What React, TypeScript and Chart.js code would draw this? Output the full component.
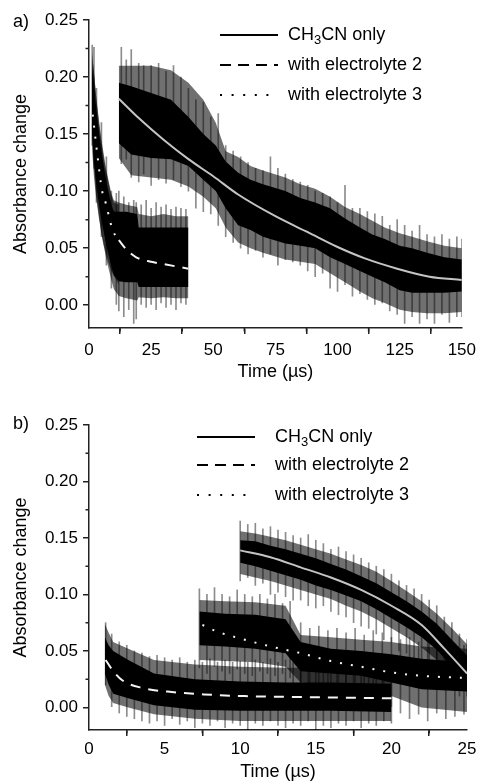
import React, { useEffect, useRef } from 'react';
import { Chart, registerables } from 'chart.js';
Chart.register(...registerables);

const FONT = '"Liberation Sans", Arial, Helvetica, sans-serif';

// ---------- shared axis values ----------
const yTicks = [0, 0.05, 0.1, 0.15, 0.2, 0.25];
const yMinor = [0.025, 0.075, 0.125, 0.175, 0.225];
const aXTicks = [0, 25, 50, 75, 100, 125, 150];
const aXMinor = [12.5, 37.5, 62.5, 87.5, 112.5, 137.5];
const bXTicks = [0, 5, 10, 15, 20, 25];
const bXMinor = [2.5, 7.5, 12.5, 17.5, 22.5];

const legendLabels: [string, boolean][][] = [
  [['CH', false], ['3', true], ['CN only', false]],
  [['with electrolyte 2', false]],
  [['with electrolyte 3', false]],
];

// ---------- panel a: CH3CN only ----------
const aMeT = [12, 17, 25, 33, 40, 46, 51, 55, 60, 65, 70, 79, 85, 91, 97, 103, 109, 114, 119, 125, 130, 136, 143, 150];
const aMeOuterHi = [0.21, 0.21, 0.21, 0.206, 0.195, 0.18, 0.16, 0.135, 0.13, 0.122, 0.118, 0.112, 0.106, 0.102, 0.095, 0.086, 0.08, 0.074, 0.068, 0.063, 0.06, 0.056, 0.052, 0.05];
const aMeCoreHi = [0.195, 0.192, 0.186, 0.18, 0.165, 0.15, 0.14, 0.126, 0.116, 0.11, 0.106, 0.1, 0.094, 0.09, 0.085, 0.076, 0.068, 0.062, 0.058, 0.052, 0.05, 0.046, 0.042, 0.04];
const aMeCoreLo = [0.142, 0.132, 0.129, 0.128, 0.122, 0.11, 0.1, 0.085, 0.07, 0.066, 0.06, 0.054, 0.052, 0.05, 0.042, 0.036, 0.03, 0.025, 0.02, 0.013, 0.011, 0.011, 0.011, 0.012];
const aMeOuterLo = [0.129, 0.114, 0.112, 0.11, 0.104, 0.095, 0.085, 0.068, 0.055, 0.05, 0.046, 0.04, 0.038, 0.036, 0.028, 0.02, 0.012, 0.006, 0.002, -0.004, -0.006, -0.007, -0.007, -0.006];
const aMeSpikeT = [13, 15, 17, 20, 22, 25, 28, 31, 34, 37, 40, 43, 46, 49, 52, 55, 58, 61, 64, 67, 70, 73, 76, 79, 82, 85, 88, 91, 94, 97, 100, 103, 106, 109, 112, 115, 118, 121, 124, 127, 130, 133, 136, 139, 142, 145, 148, 150];
const aMeSpikeLo = [0.124, 0.128, 0.112, 0.108, 0.115, 0.105, 0.11, 0.107, 0.11, 0.104, 0.1, 0.085, 0.082, 0.08, 0.07, 0.06, 0.055, 0.05, 0.045, 0.048, 0.042, 0.045, 0.035, 0.04, 0.038, 0.035, 0.03, 0.025, 0.028, 0.015, 0.012, 0.018, 0.008, 0.01, 0.005, 0.0, 0.002, -0.005, -0.008, -0.016, -0.01, -0.016, -0.012, -0.016, -0.008, -0.015, -0.01, -0.01];
const aMeSpikeHi = [0.226, 0.215, 0.224, 0.212, 0.21, 0.21, 0.212, 0.205, 0.21, 0.2, 0.19, 0.18, 0.178, 0.165, 0.168, 0.14, 0.135, 0.13, 0.125, 0.12, 0.118, 0.13, 0.12, 0.115, 0.11, 0.108, 0.105, 0.1, 0.098, 0.095, 0.09, 0.105, 0.085, 0.085, 0.082, 0.08, 0.078, 0.07, 0.075, 0.07, 0.065, 0.07, 0.062, 0.06, 0.062, 0.058, 0.06, 0.058];
const aMeFitT = [12, 20, 30, 40, 50, 60, 75, 88, 100, 111, 124, 137, 150];
const aMeFitY = [0.181, 0.164, 0.145, 0.128, 0.113, 0.097, 0.078, 0.064, 0.051, 0.041, 0.032, 0.025, 0.022];

// ---------- panel a: with electrolyte 2 ----------
const aE2T = [1.5, 3, 5, 7, 9, 10, 12, 15, 19.4, 20, 25, 30, 35, 40];
const aE2OuterHi = [0.215, 0.18, 0.145, 0.118, 0.098, 0.092, 0.09, 0.088, 0.086, 0.08, 0.078, 0.08, 0.078, 0.078];
const aE2CoreHi = [0.205, 0.17, 0.135, 0.108, 0.088, 0.082, 0.082, 0.082, 0.08, 0.068, 0.068, 0.068, 0.068, 0.068];
const aE2CoreLo = [0.15, 0.11, 0.078, 0.052, 0.034, 0.026, 0.021, 0.02, 0.02, 0.016, 0.016, 0.016, 0.016, 0.016];
const aE2OuterLo = [0.135, 0.095, 0.062, 0.04, 0.022, 0.014, 0.008, 0.006, 0.004, 0.007, 0.006, 0.007, 0.006, 0.006];
const aE2SpikeT = [1.3, 2, 3, 5, 7, 9, 11, 12, 14, 16, 18, 19, 21, 23, 25, 27, 29, 31, 33, 35, 37, 39];
const aE2SpikeLo = [0.14, 0.12, 0.09, 0.06, 0.035, 0.015, 0.0, -0.005, -0.01, -0.004, -0.016, -0.012, 0.0, -0.002, 0.0, -0.004, 0.002, -0.002, 0.0, -0.004, 0.002, 0.0];
const aE2SpikeHi = [0.228, 0.226, 0.19, 0.16, 0.13, 0.1, 0.098, 0.1, 0.095, 0.09, 0.092, 0.09, 0.088, 0.092, 0.085, 0.09, 0.086, 0.088, 0.084, 0.086, 0.085, 0.084];
const aE2FitT = [12, 15, 19, 25, 30, 35, 40];
const aE2FitY = [0.057, 0.049, 0.042, 0.038, 0.036, 0.034, 0.032];

// ---------- panel a: with electrolyte 3 ----------
const aE3T = [1.2, 2, 3, 4, 5, 6, 7, 8, 9, 10, 12];
const aE3OuterHi = [0.222, 0.205, 0.18, 0.16, 0.142, 0.128, 0.116, 0.106, 0.096, 0.09, 0.088];
const aE3CoreHi = [0.212, 0.19, 0.165, 0.145, 0.128, 0.115, 0.103, 0.094, 0.086, 0.082, 0.082];
const aE3CoreLo = [0.15, 0.125, 0.105, 0.088, 0.075, 0.064, 0.054, 0.046, 0.04, 0.035, 0.028];
const aE3OuterLo = [0.138, 0.112, 0.092, 0.076, 0.063, 0.052, 0.044, 0.036, 0.03, 0.026, 0.018];
const aE3FitT = [1.5, 3.3, 5.2, 6.8, 9.2, 11.5];
const aE3FitY = [0.167, 0.133, 0.101, 0.089, 0.068, 0.057];

// ---------- panel b: CH3CN only ----------
const bMeT = [10, 11, 12, 13, 14, 15, 16, 17, 18, 19, 20, 21, 22, 23, 24, 25];
const bMeOuterHi = [0.156, 0.154, 0.151, 0.148, 0.144, 0.14, 0.136, 0.131, 0.126, 0.12, 0.112, 0.103, 0.094, 0.083, 0.07, 0.056];
const bMeCoreHi = [0.148, 0.147, 0.143, 0.14, 0.136, 0.132, 0.127, 0.122, 0.116, 0.11, 0.102, 0.094, 0.085, 0.074, 0.06, 0.046];
const bMeCoreLo = [0.128, 0.125, 0.121, 0.117, 0.113, 0.108, 0.104, 0.099, 0.094, 0.087, 0.079, 0.071, 0.062, 0.051, 0.036, 0.024];
const bMeOuterLo = [0.118, 0.115, 0.112, 0.108, 0.104, 0.1, 0.096, 0.09, 0.085, 0.078, 0.07, 0.062, 0.053, 0.042, 0.03, 0.018];
const bMeSpikeT = [10, 10.5, 11, 11.5, 12, 12.5, 13, 13.5, 14, 14.5, 15, 15.5, 16, 16.5, 17, 17.5, 18, 18.5, 19, 19.5, 20, 20.5, 21, 21.5, 22, 22.5, 23, 23.5, 24, 24.5, 25];
const bMeSpikeLo = [0.112, 0.115, 0.108, 0.11, 0.1, 0.102, 0.098, 0.095, 0.095, 0.09, 0.088, 0.09, 0.085, 0.082, 0.08, 0.075, 0.072, 0.07, 0.065, 0.06, 0.058, 0.05, 0.048, 0.042, 0.04, 0.035, 0.025, 0.02, 0.015, 0.01, 0.01];
const bMeSpikeHi = [0.165, 0.162, 0.163, 0.158, 0.16, 0.157, 0.155, 0.152, 0.15, 0.153, 0.148, 0.145, 0.14, 0.142, 0.138, 0.135, 0.132, 0.128, 0.125, 0.122, 0.118, 0.112, 0.108, 0.105, 0.1, 0.095, 0.09, 0.08, 0.075, 0.065, 0.06];
const bMeFitT = [10, 12, 14, 16, 18, 20, 22, 23.5, 25];
const bMeFitY = [0.139, 0.133, 0.124, 0.115, 0.104, 0.09, 0.073, 0.052, 0.03];

// ---------- panel b: with electrolyte 3 ----------
const bE3T = [7.3, 9, 11, 13, 14, 16, 18, 20, 22, 25];
const bE3OuterHi = [0.095, 0.094, 0.093, 0.09, 0.064, 0.062, 0.06, 0.058, 0.054, 0.052];
const bE3CoreHi = [0.085, 0.083, 0.082, 0.078, 0.058, 0.052, 0.05, 0.047, 0.043, 0.04];
const bE3CoreLo = [0.055, 0.054, 0.052, 0.048, 0.032, 0.03, 0.028, 0.022, 0.016, 0.014];
const bE3OuterLo = [0.042, 0.041, 0.04, 0.036, 0.022, 0.02, 0.018, 0.01, 0.0, -0.004];
const bE3SpikeT = [7.3, 7.8, 8.3, 8.8, 9.3, 9.8, 10.3, 10.8, 11.3, 11.8, 12.3, 12.8, 13.3, 14, 14.6, 15.2, 15.8, 16.4, 17, 17.6, 18.2, 18.8, 19.4, 20, 20.6, 21.2, 21.8, 22.4, 23, 23.6, 24.2, 24.8];
const bE3SpikeLo = [0.035, 0.03, 0.036, 0.032, 0.03, 0.034, 0.03, 0.028, 0.032, 0.03, 0.028, 0.03, 0.026, 0.012, 0.01, 0.008, 0.012, 0.005, 0.01, 0.006, 0.004, 0.008, 0.002, 0.0, -0.005, -0.01, -0.006, -0.012, -0.005, -0.01, -0.008, -0.006];
const bE3SpikeHi = [0.105, 0.1, 0.106, 0.1, 0.098, 0.104, 0.1, 0.098, 0.1, 0.096, 0.1, 0.092, 0.094, 0.075, 0.07, 0.072, 0.068, 0.07, 0.066, 0.07, 0.064, 0.068, 0.066, 0.062, 0.06, 0.062, 0.058, 0.06, 0.056, 0.058, 0.056, 0.055];
const bE3FitT = [7.5, 8.5, 10, 12, 14, 16, 18, 20, 22, 25];
const bE3FitY = [0.073, 0.067, 0.061, 0.054, 0.048, 0.041, 0.036, 0.031, 0.028, 0.026];

// ---------- panel b: with electrolyte 2 ----------
const bE2T = [1.05, 1.3, 1.6, 2.6, 4.3, 7, 10, 13, 16, 20];
const bE2OuterHi = [0.074, 0.066, 0.058, 0.052, 0.042, 0.038, 0.036, 0.035, 0.035, 0.034];
const bE2CoreHi = [0.062, 0.055, 0.05, 0.042, 0.03, 0.025, 0.023, 0.022, 0.022, 0.021];
const bE2CoreLo = [0.03, 0.02, 0.012, 0.008, 0.002, -0.002, -0.003, -0.003, -0.003, -0.004];
const bE2OuterLo = [0.02, 0.01, 0.004, 0.0, -0.006, -0.01, -0.012, -0.012, -0.012, -0.012];
const bE2SpikeT = [1.1, 1.5, 2, 2.5, 3, 3.5, 4, 4.5, 5, 5.5, 6, 6.5, 7, 7.5, 8, 8.5, 9, 9.5, 10, 10.5, 11, 11.5, 12, 12.5, 13, 13.5, 14, 14.5, 15, 15.5, 16, 16.5, 17, 17.5, 18, 18.5, 19, 19.5, 20];
const bE2SpikeLo = [0.02, 0.0, -0.005, -0.008, -0.01, -0.012, -0.014, -0.012, -0.016, -0.01, -0.015, -0.012, -0.018, -0.014, -0.016, -0.012, -0.018, -0.014, -0.016, -0.02, -0.014, -0.016, -0.012, -0.016, -0.018, -0.014, -0.016, -0.012, -0.02, -0.016, -0.018, -0.014, -0.016, -0.012, -0.018, -0.014, -0.016, -0.012, -0.014];
const bE2SpikeHi = [0.075, 0.065, 0.058, 0.055, 0.05, 0.048, 0.045, 0.046, 0.044, 0.042, 0.044, 0.04, 0.042, 0.04, 0.043, 0.04, 0.042, 0.04, 0.041, 0.04, 0.042, 0.04, 0.043, 0.04, 0.042, 0.04, 0.041, 0.04, 0.042, 0.04, 0.041, 0.04, 0.042, 0.04, 0.041, 0.04, 0.042, 0.04, 0.04];
const bE2FitT = [1.1, 1.5, 2.2, 3.6, 5.2, 7.6, 10.3, 12.7, 15, 20];
const bE2FitY = [0.042, 0.034, 0.024, 0.017, 0.014, 0.0115, 0.01, 0.0094, 0.009, 0.008];

// ---------- styling ----------
const OUTER = 'rgba(0,0,0,0.56)';
const SPIKE = 'rgba(0,0,0,0.45)';
const CORE = '#000';
const FIT_SOLID = '#c4c4c4';
const FIT_WHITE = '#f4f4f4';
const DASH = [10, 8];
const DOT = [2, 9];

const pts = (xs: number[], ys: number[]) => xs.map((x, i) => ({ x, y: ys[i] }));

function bandPair(t: number[], hi: number[], lo: number[], color: string, order: number) {
  return [
    { type: 'line', data: pts(t, hi), borderWidth: 0, borderColor: 'rgba(0,0,0,0)', pointRadius: 0, fill: '+1', backgroundColor: color, order },
    { type: 'line', data: pts(t, lo), borderWidth: 0, borderColor: 'rgba(0,0,0,0)', pointRadius: 0, fill: false, order },
  ];
}
function spikes(t: number[], lo: number[], hi: number[]) {
  return {
    type: 'bar',
    data: t.map((x, i) => ({ x, y: [lo[i], hi[i]] })),
    backgroundColor: SPIKE,
    borderWidth: 0,
    barThickness: 1,
    grouped: false,
    order: 3,
  };
}
function fit(t: number[], y: number[], color: string, dash: number[]) {
  return {
    type: 'line', data: pts(t, y), borderColor: color, borderWidth: 2, borderDash: dash,
    pointRadius: 0, fill: false, cubicInterpolationMode: 'monotone', order: 0,
  };
}

const overlayPlugin = {
  id: 'overlay',
  afterDraw(chart: any, _args: any, opts: any) {
    const ctx = chart.ctx as CanvasRenderingContext2D;
    const { chartArea } = chart;
    const xs = chart.scales.x;
    const ys = chart.scales.y;
    ctx.save();
    // minor ticks
    ctx.strokeStyle = '#222';
    ctx.lineWidth = 1.5;
    ctx.beginPath();
    for (const v of opts.minorY) {
      const y = ys.getPixelForValue(v);
      ctx.moveTo(chartArea.left - 3.5, y);
      ctx.lineTo(chartArea.left, y);
    }
    for (const v of opts.minorX) {
      const x = xs.getPixelForValue(v);
      ctx.moveTo(x, chartArea.bottom);
      ctx.lineTo(x, chartArea.bottom + 3.5);
    }
    ctx.stroke();
    // panel label
    ctx.fillStyle = '#000';
    ctx.font = `18px ${FONT}`;
    ctx.textBaseline = 'middle';
    ctx.textAlign = 'left';
    ctx.fillText(opts.panelLabel, opts.labelX, opts.labelY);
    // legend
    const styles = [[], [11, 7], [2, 9.6]];
    legendLabels.forEach((parts, i) => {
      const y = opts.legendY[i];
      ctx.strokeStyle = '#000';
      ctx.lineWidth = 2;
      ctx.setLineDash(styles[i]);
      ctx.beginPath();
      ctx.moveTo(opts.legendX0, y);
      ctx.lineTo(opts.legendX1, y);
      ctx.stroke();
      ctx.setLineDash([]);
      let x = opts.legendTextX;
      for (const [s, sub] of parts) {
        ctx.font = sub ? `13px ${FONT}` : `18px ${FONT}`;
        ctx.fillText(s, x, sub ? y + 5 : y);
        x += ctx.measureText(s).width;
      }
    });
    ctx.restore();
  },
};

function makeConfig(p: any) {
  return {
    type: 'line',
    data: { datasets: p.datasets },
    plugins: [overlayPlugin],
    options: {
      animation: false,
      responsive: false,
      devicePixelRatio: 1,
      events: [],
      layout: { padding: { left: 0, right: 15, top: p.padTop, bottom: 0 } },
      plugins: {
        legend: { display: false },
        tooltip: { enabled: false },
        overlay: p.overlay,
      },
      scales: {
        x: {
          type: 'linear', min: 0, max: p.xMax, offset: false,
          afterBuildTicks: (s: any) => { s.ticks = p.xTicks.map((v: number) => ({ value: v })); },
          afterFit: (s: any) => { s.height = p.xHeight; },
          grid: { drawOnChartArea: false, drawTicks: true, tickLength: 6, color: '#222', lineWidth: 1.5 },
          border: { display: true, color: '#222', width: 1.5 },
          ticks: { font: { family: FONT, size: 17 }, color: '#000', padding: p.xTickPad, maxRotation: 0, autoSkip: false, callback: (v: any) => String(v) },
          title: { display: true, text: 'Time (µs)', font: { family: FONT, size: 18 }, color: '#000', padding: { top: 0, bottom: p.xTitlePad } },
        },
        y: {
          type: 'linear', min: -0.02, max: 0.25,
          afterBuildTicks: (s: any) => { s.ticks = yTicks.map((v) => ({ value: v })); },
          afterFit: (s: any) => { s.width = 89; },
          grid: { drawOnChartArea: false, drawTicks: true, tickLength: 6, color: '#222', lineWidth: 1.5 },
          border: { display: true, color: '#222', width: 1.5 },
          ticks: { font: { family: FONT, size: 17 }, color: '#000', padding: 5, callback: (v: any) => Number(v).toFixed(2) },
          title: { display: true, text: 'Absorbance change', font: { family: FONT, size: 18 }, color: '#000', padding: { top: 10, bottom: 0 } },
        },
      },
    },
  };
}

const panelA = {
  xMax: 150, xTicks: aXTicks, padTop: 20, xHeight: 64, xTickPad: 6, xTitlePad: 9,
  overlay: { minorX: aXMinor, minorY: yMinor, panelLabel: 'a)', labelX: 13, labelY: 22, legendX0: 220, legendX1: 278, legendTextX: 288, legendY: [35, 65, 95] },
  datasets: [
    fit(aMeFitT, aMeFitY, FIT_SOLID, []),
    fit(aE2FitT, aE2FitY, FIT_WHITE, DASH),
    fit(aE3FitT, aE3FitY, FIT_WHITE, DOT),
    ...bandPair(aMeT, aMeCoreHi, aMeCoreLo, CORE, 1),
    ...bandPair(aE2T, aE2CoreHi, aE2CoreLo, CORE, 1),
    ...bandPair(aE3T, aE3CoreHi, aE3CoreLo, CORE, 1),
    spikes(aMeSpikeT, aMeSpikeLo, aMeSpikeHi),
    spikes(aE2SpikeT, aE2SpikeLo, aE2SpikeHi),
    ...bandPair(aMeT, aMeOuterHi, aMeOuterLo, OUTER, 4),
    ...bandPair(aE2T, aE2OuterHi, aE2OuterLo, OUTER, 4),
    ...bandPair(aE3T, aE3OuterHi, aE3OuterLo, OUTER, 4),
  ],
};

const panelB = {
  xMax: 25, xTicks: bXTicks, padTop: 33, xHeight: 53, xTickPad: 3, xTitlePad: 0,
  overlay: { minorX: bXMinor, minorY: yMinor, panelLabel: 'b)', labelX: 13, labelY: 32, legendX0: 197, legendX1: 255, legendTextX: 275, legendY: [45, 73, 103] },
  datasets: [
    fit(bMeFitT, bMeFitY, FIT_SOLID, []),
    fit(bE2FitT, bE2FitY, FIT_WHITE, DASH),
    fit(bE3FitT, bE3FitY, FIT_WHITE, DOT),
    ...bandPair(bMeT, bMeCoreHi, bMeCoreLo, CORE, 1),
    ...bandPair(bE3T, bE3CoreHi, bE3CoreLo, CORE, 1),
    ...bandPair(bE2T, bE2CoreHi, bE2CoreLo, CORE, 1),
    spikes(bMeSpikeT, bMeSpikeLo, bMeSpikeHi),
    spikes(bE3SpikeT, bE3SpikeLo, bE3SpikeHi),
    spikes(bE2SpikeT, bE2SpikeLo, bE2SpikeHi),
    ...bandPair(bMeT, bMeOuterHi, bMeOuterLo, OUTER, 4),
    ...bandPair(bE3T, bE3OuterHi, bE3OuterLo, OUTER, 4),
    ...bandPair(bE2T, bE2OuterHi, bE2OuterLo, OUTER, 4),
  ],
};

function Panel({ spec, height }: { spec: any; height: number }) {
  const ref = useRef<HTMLCanvasElement | null>(null);
  useEffect(() => {
    if (!ref.current) return;
    const chart = new Chart(ref.current, makeConfig(spec) as any);
    return () => chart.destroy();
  }, [spec]);
  return <canvas ref={ref} width={482} height={height} style={{ display: 'block', width: 482, height }} />;
}

export default function App() {
  useEffect(() => {
    document.body.style.margin = '0';
  }, []);
  return (
    <div style={{ width: 482, height: 783, background: '#fff', overflow: 'hidden' }}>
      <Panel spec={panelA} height={392} />
      <Panel spec={panelB} height={391} />
    </div>
  );
}
